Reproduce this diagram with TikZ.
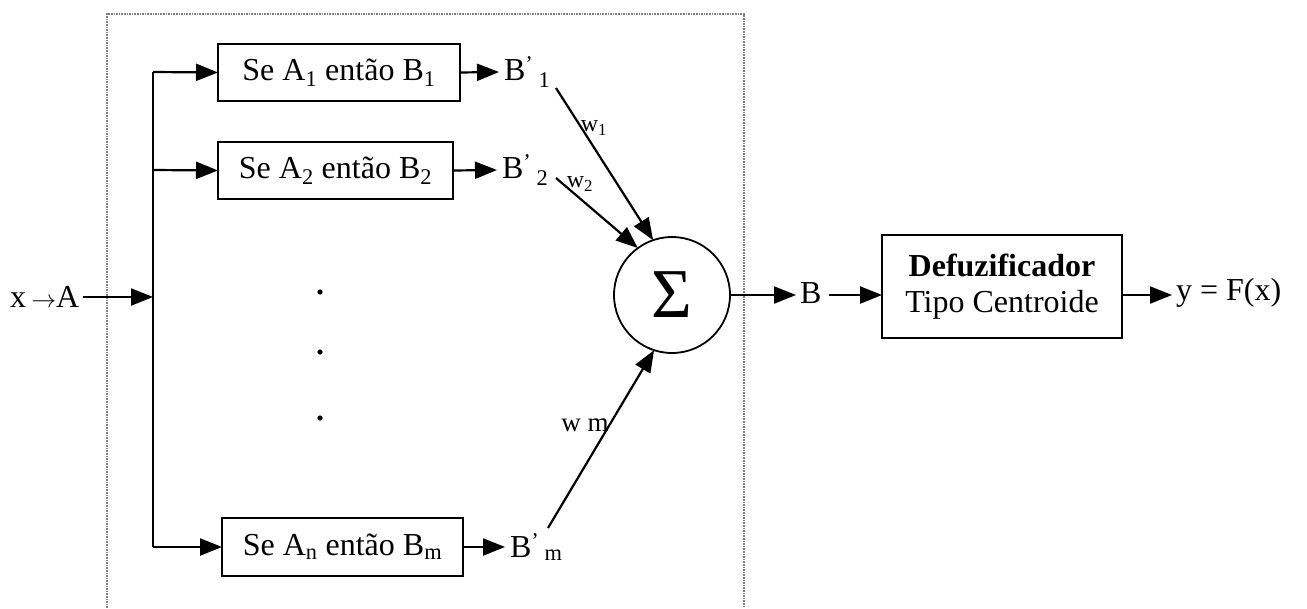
\documentclass[tikz,border=0pt]{standalone}
\usepackage{fontspec}
\setmainfont{Liberation Serif}
\usetikzlibrary{arrows.meta}
\begin{document}
\begin{tikzpicture}[x=1pt,y=-1pt,
  every node/.style={font=\fontsize{32}{36}\selectfont, inner sep=0pt, outer sep=0pt},
  lbl/.style={outer sep=4pt},
  rulebox/.style={draw, line width=2.5pt, minimum height=57pt},
  arr/.style={line width=2.2pt, -{Triangle[length=22pt,width=17pt]}},
  ln/.style={line width=2.4pt},
  wlab/.style={font=\fontsize{24}{26}\selectfont},
  frame/.style={gray, line width=1.6pt, densely dotted}]
\useasboundingbox (0,0) rectangle (1307,608);
% dotted frame
\draw[frame] (107,608) -- (107,14) -- (744,14) -- (744,608);
% input
\node[anchor=west, lbl] (xa) at (6,297) {x\,$\rightarrow$A};
\coordinate (bm) at (153,297);
\coordinate (bt) at (153,72);
\coordinate (b2c) at (153,170);
\coordinate (bb) at (153,547);
\draw[ln] (bt) -- (bb);
\draw[arr] (xa.east) -- (bm);
% rule boxes
\node[rulebox, minimum width=242pt] (r1) at (339,72.5) {Se A\textsubscript{1} então B\textsubscript{1}};
\node[rulebox, minimum width=235pt] (r2) at (335.5,170.5) {Se A\textsubscript{2} então B\textsubscript{2}};
\node[rulebox, minimum width=241pt, minimum height=58pt] (rn) at (342.5,547) {Se A\textsubscript{n} então B\textsubscript{m}};
\draw[arr] (bt) -- (r1.west);
\draw[arr] (b2c) -- (r2.west);
\draw[arr] (bb) -- (rn.west);
% outputs of rules
\node[anchor=west] (o1) at (504,72) {B\textsuperscript{'}\,\textsubscript{1}};
\node[anchor=west] (o2) at (502,170) {B\textsuperscript{'}\,\textsubscript{2}};
\node[anchor=west] (om) at (510,547) {B\textsuperscript{'}\,\textsubscript{m}};
\draw[arr] (r1.east) -- ([xshift=-5pt]o1.west);
\draw[arr] (r2.east) -- ([xshift=-5pt]o2.west);
\draw[arr] (rn.east) -- ([xshift=-5pt]om.west);
% dots
\fill (320,292) circle (2.6);
\fill (320,352) circle (2.6);
\fill (320,418) circle (2.6);
% sum
\node[draw, circle, line width=1.8pt, minimum size=116pt, font=\fontsize{70}{72}\selectfont] (sum) at (672,295) {Σ};
\coordinate (s1) at (556,88);
\coordinate (s2) at (556,178);
\coordinate (sm) at (548,528);
\draw[arr] (s1) -- (sum.109);
\draw[arr] (s2) -- (sum.126);
\draw[arr] (sm) -- (sum.252);
\node[wlab] (w1) at (594,128) {w\textsubscript{1}};
\node[wlab] (w2) at (580,184) {w\textsubscript{2}};
\node[wlab, font=\fontsize{27}{29}\selectfont] (wm) at (585,425) {w m};
% output
\node[anchor=west] (bo) at (800,293) {B};
\draw[arr] (sum.east) -- ([xshift=-4pt]sum.east -| bo.west);
\node[rulebox, minimum width=240pt, minimum height=103pt, align=center] (df) at (1002,286.5) {\textbf{Defuzificador}\\Tipo Centroide};
\draw[arr] ([xshift=8pt]bo.east |- sum.east) -- (sum.east -| df.west);
\node[anchor=west] (y) at (1176,293) {y = F(x)};
\draw[arr] (sum.east -| df.east) -- ([xshift=-4pt]sum.east -| y.west);
\end{tikzpicture}
\end{document}
